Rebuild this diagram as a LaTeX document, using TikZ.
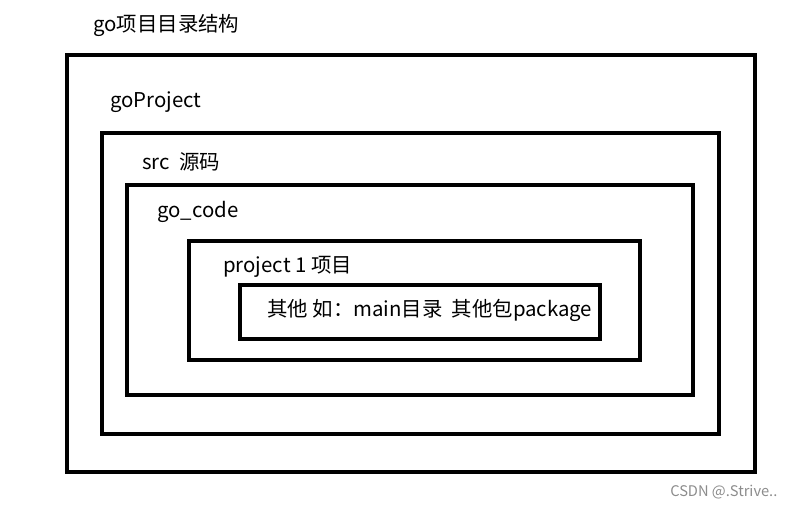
\documentclass[tikz,border=0pt]{standalone}
\usepackage{fontspec}
\setmainfont{Noto Sans CJK SC}
\usepackage{tikz}
\usetikzlibrary{positioning}

\tikzset{
  frame/.style={draw=black, line width=3.6pt},
  label/.style={anchor=west, inner sep=0pt, font=\fontsize{15.3}{17}\selectfont},
}

\begin{document}
\begin{tikzpicture}[x=0.75pt, y=-0.75pt]
  \useasboundingbox (0,0) rectangle (792,506);
  % nested frames, outer to inner
  \draw[frame] (67,55) rectangle (755,472);
  \draw[frame] (102,133) rectangle (719,434);
  \draw[frame] (127,185) rectangle (693,395);
  \draw[frame] (189,241) rectangle (640,360);
  \draw[frame] (240,285) rectangle (600,339);
  % labels
  \node[label] (title) at (93,25) {go项目目录结构};
  \node[label] (goproj) at (110,102) {goProject};
  \node[label] (src) at (142,162) {src\ \ 源码};
  \node[label] (gocode) at (157,212) {go\_code};
  \node[label] (proj) at (223,267) {project 1 项目};
  \node[label] (other) at (267,310) {其他 如：main目录\ \ 其他包package};
  \node[anchor=west, inner sep=0pt, text=black!45, font=\fontsize{11}{12}\selectfont] (mark) at (670,492) {CSDN @.Strive..};
\end{tikzpicture}
\end{document}
